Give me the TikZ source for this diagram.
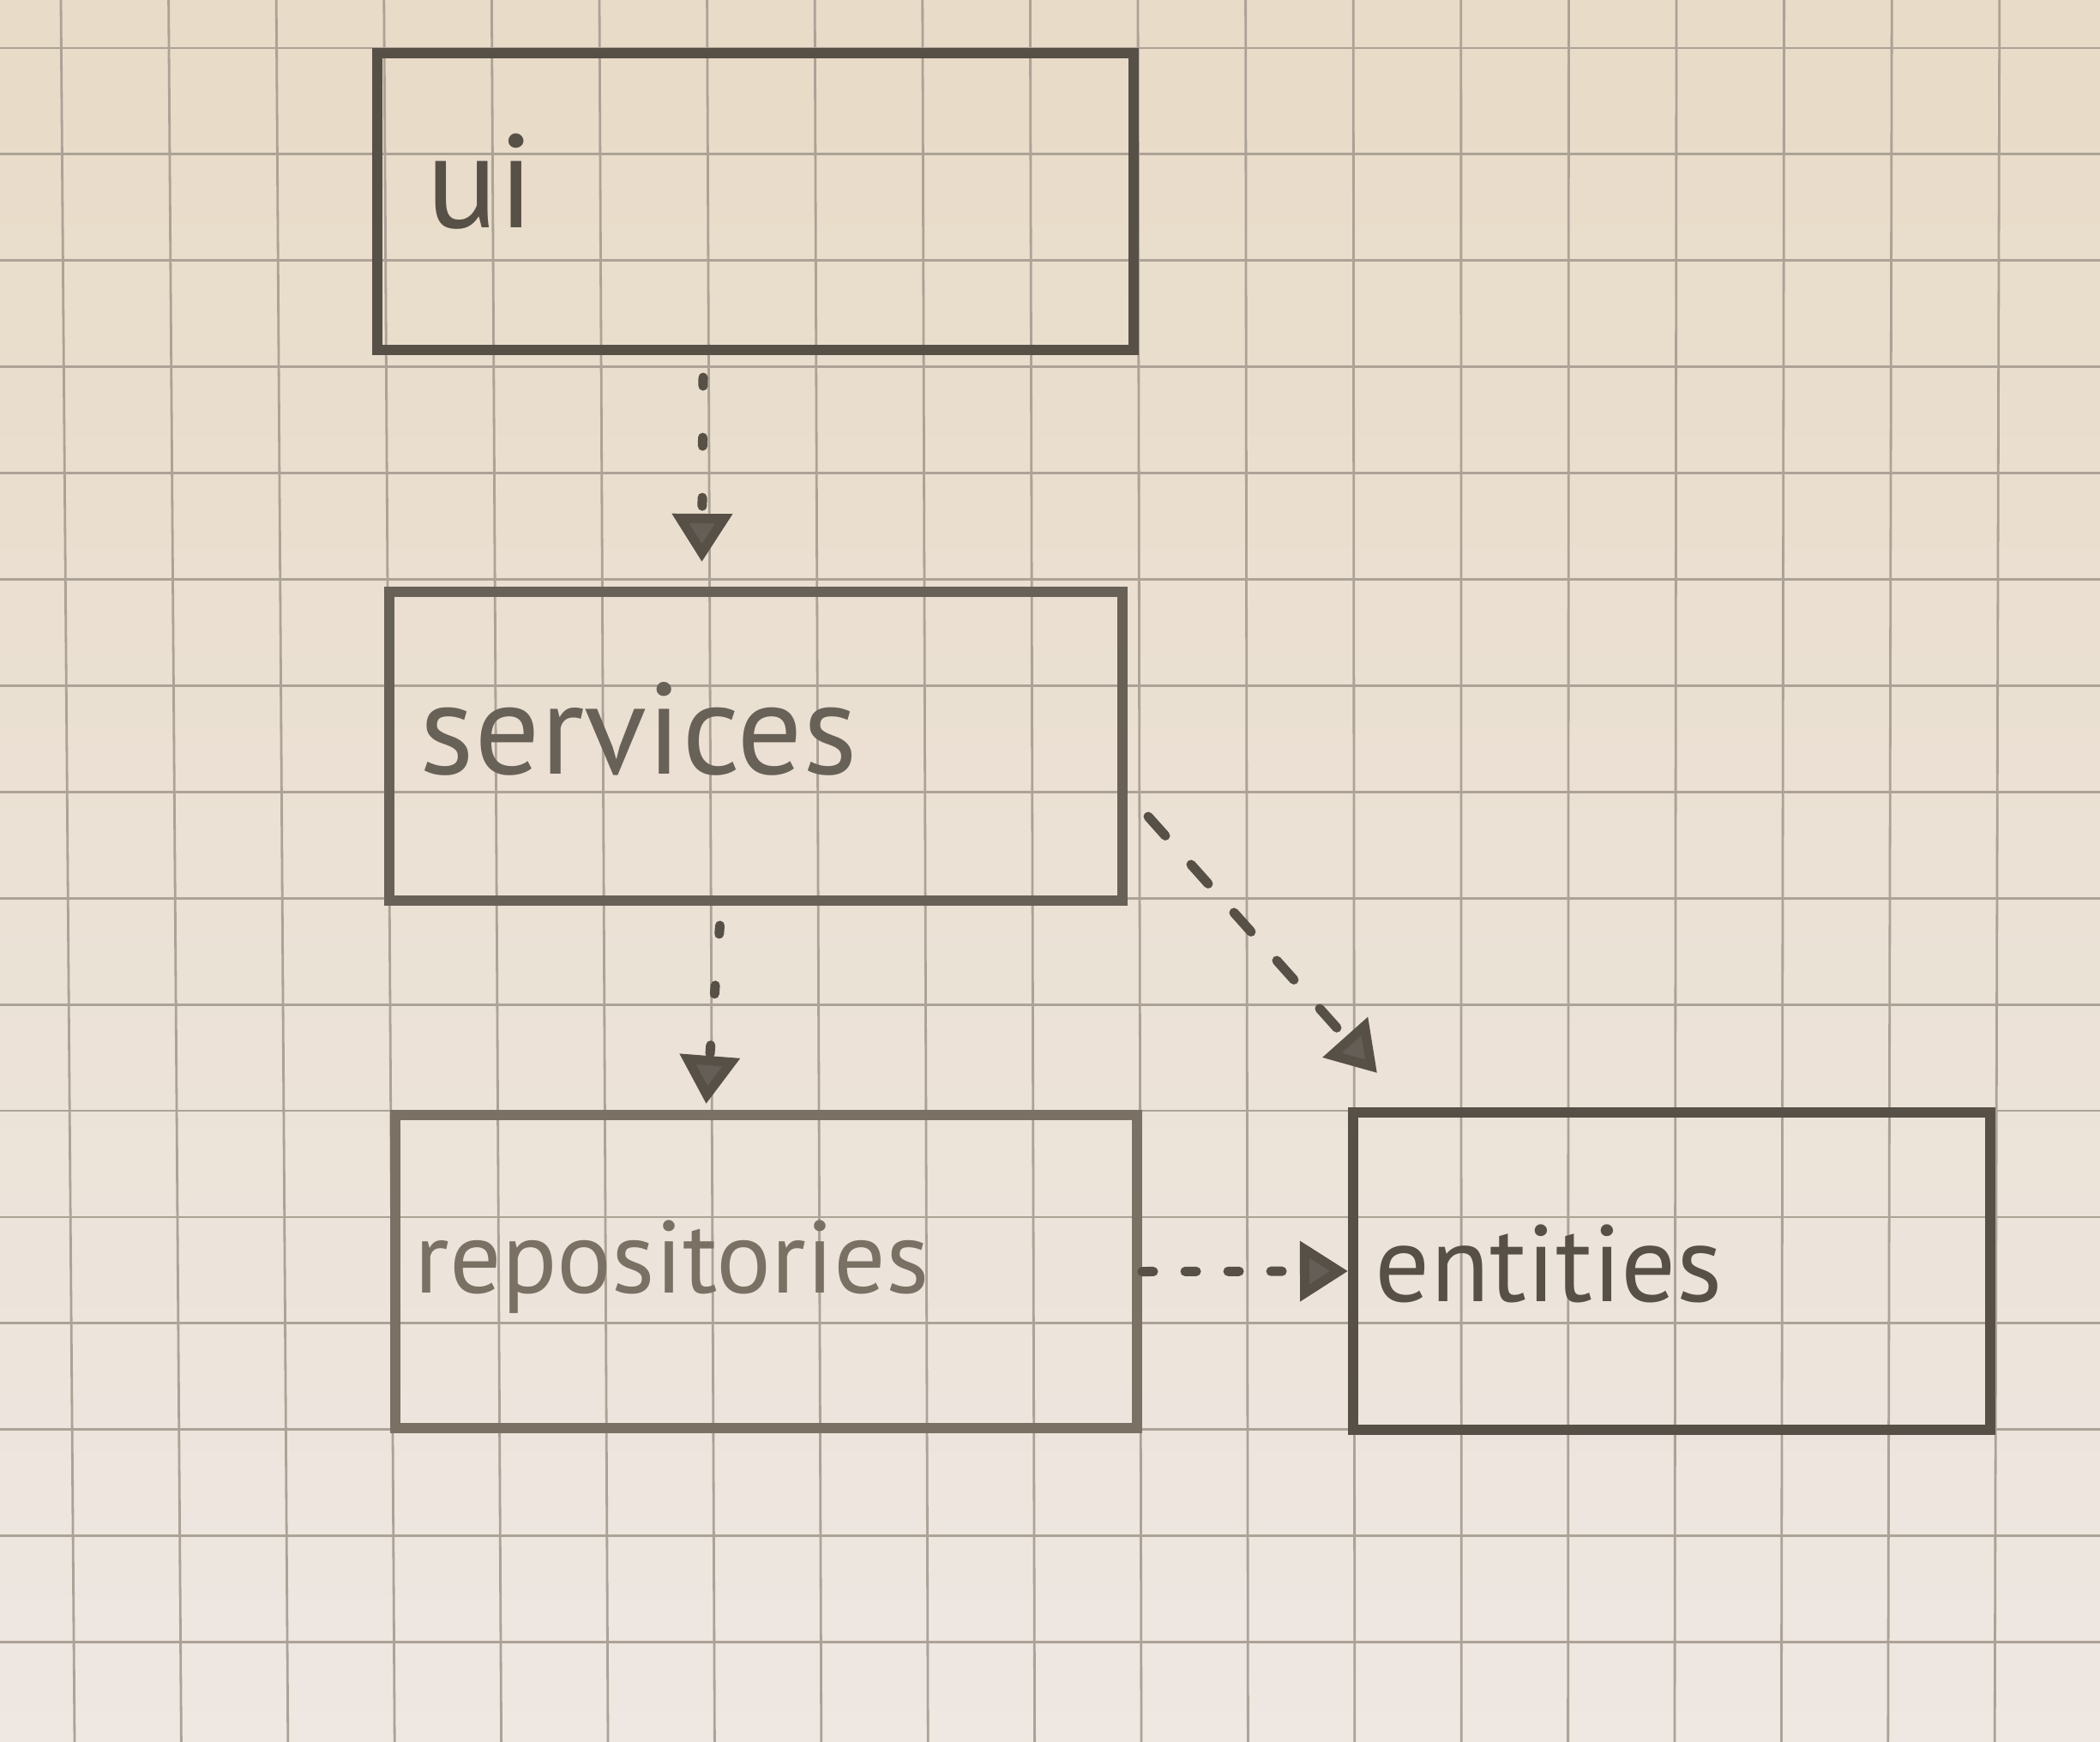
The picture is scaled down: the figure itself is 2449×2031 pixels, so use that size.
\documentclass[tikz,border=0pt]{standalone}
\usepackage{fontspec}
\setmainfont{PT Sans}
\usetikzlibrary{arrows.meta,calc,fit}
\definecolor{paperTop}{RGB}{232,219,199}
\definecolor{paperBot}{RGB}{238,231,226}
\definecolor{gridc}{RGB}{172,162,150}
\definecolor{pencil}{RGB}{86,80,71}
\definecolor{pencilMd}{RGB}{104,97,87}
\definecolor{pencilLt}{RGB}{122,113,100}
\begin{document}
\begin{tikzpicture}[x=0.01cm,y=-0.01cm,
  box/.style={draw=pencil, line width=0.12cm, inner sep=0pt},
  lbl/.style={anchor=base west, inner sep=0pt, text=pencil},
  dep/.style={draw=pencil, line width=0.11cm, line cap=round,
    dash pattern=on 0.1cm off 0.6cm,
    -{Triangle[length=0.56cm,width=0.68cm,fill=pencil!92!white]}},
  gridline/.style={draw=gridc, line width=0.028cm}
]
\useasboundingbox (0,0) rectangle (2449,2031);
\shade[top color=paperTop,bottom color=paperBot] (0,0) rectangle (2449,2031);
\foreach \k in {0,...,18} \draw[gridline] ({71+125.6*\k},0) -- ({87+124.4*\k},2031);
\foreach \k in {0,...,15} \draw[gridline] (0,{56+123.9*\k}) -- (2449,{56+123.9*\k});

% boxes
\node[box, fit={(440,62) (1322,408)}] (ui) {};
\node[box, draw=pencilMd, fit={(454,690) (1309,1050)}] (services) {};
\node[box, draw=pencilLt, fit={(461,1300) (1326,1665)}] (repositories) {};
\node[box, fit={(1578,1297) (2321,1667)}] (entities) {};

% labels
\node[lbl, font=\fontsize{44}{44}\selectfont] (uiL) at (497,266) {ui};
\node[lbl, text=pencilMd, font=\fontsize{43}{43}\selectfont] (servicesL) at (489,902) {services};
\node[lbl, text=pencilLt, font=\fontsize{34}{34}\selectfont] (repositoriesL) at (483,1507) {repositories};
\node[lbl, font=\fontsize{36}{36}\selectfont] (entitiesL) at (1603,1517) {entities};

% dependencies
\draw[dep] ($(ui.south)+(-61,26)$) -- ($(services.north)+(-63,-29)$);
\draw[dep] ($(services.south)+(-42,23)$) -- ($(repositories.north)+(-70,-7)$);
\draw[dep, dash pattern=on 0.3cm off 0.45cm] ($(services.east)+(24,82)$) -- ($(entities.north west)+(34,-40)$);
\draw[dep, dash pattern=on 0.13cm off 0.37cm] (repositories.east) -- (entities.west);
\end{tikzpicture}
\end{document}
